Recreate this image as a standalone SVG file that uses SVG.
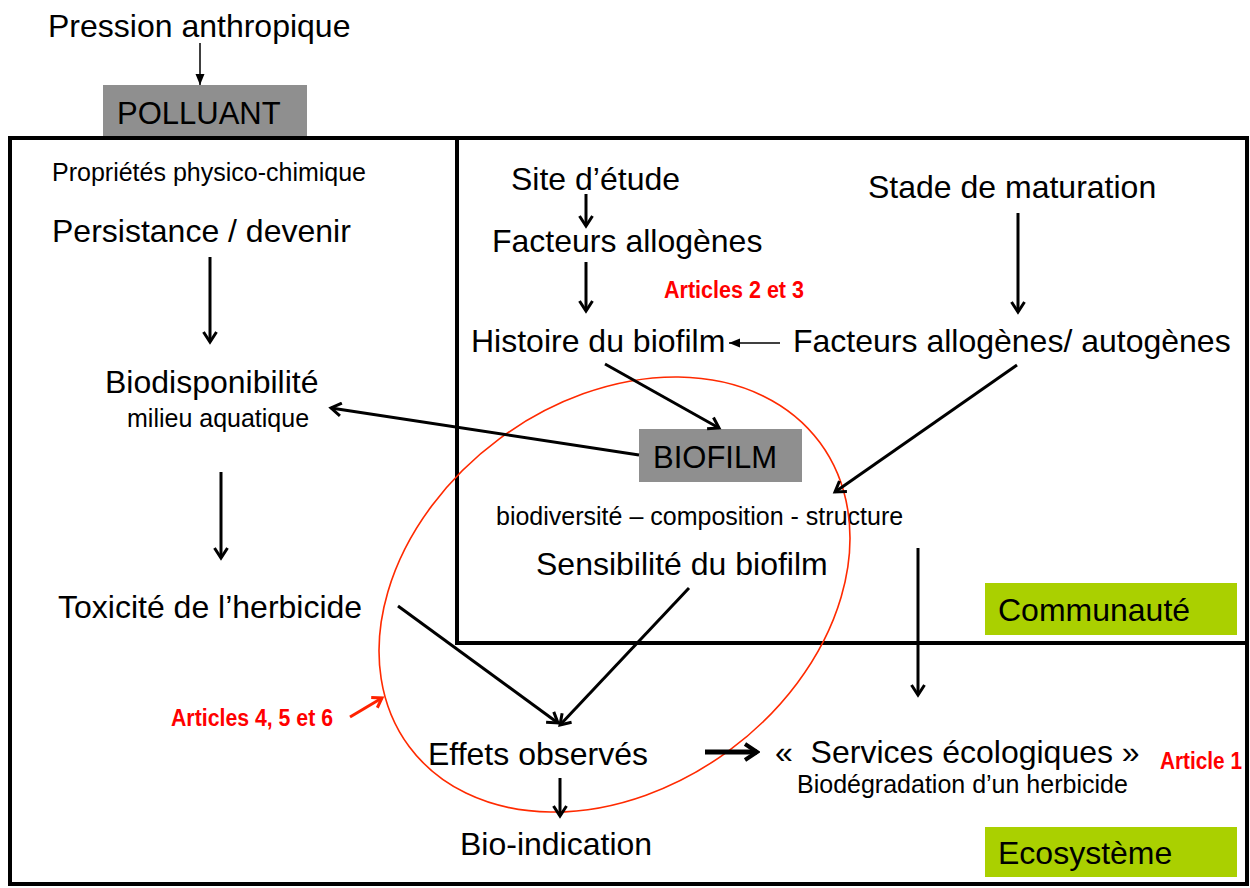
<svg xmlns="http://www.w3.org/2000/svg" width="1250" height="888" viewBox="0 0 1250 888">
<defs>
<style>
text{font-family:"Liberation Sans",Arial,Helvetica,sans-serif;fill:#000}
.big{font-size:32px}
.sm{font-size:25px}
.red{font-size:23px;font-weight:bold;fill:#ff0000}
.ln{stroke:#000;stroke-width:3;fill:none;marker-end:url(#open)}
.thin{stroke:#000;stroke-width:1.5;fill:none;marker-end:url(#tri)}
.frame{fill:none;stroke:#000;stroke-width:4}
.gray{fill:#8f8f8f}
.green{fill:#aad000}
</style>
<marker id="open" markerUnits="userSpaceOnUse" markerWidth="16" markerHeight="16" refX="13" refY="8" orient="auto" viewBox="0 0 16 16">
<path d="M3,1.5 L13,8 L3,14.5" fill="none" stroke="#000" stroke-width="3"/>
</marker>
<marker id="openbig" markerUnits="userSpaceOnUse" markerWidth="20" markerHeight="20" refX="17" refY="10" orient="auto" viewBox="0 0 20 20">
<path d="M5,2 L17,10 L5,18" fill="none" stroke="#000" stroke-width="4"/>
</marker>
<marker id="openred" markerUnits="userSpaceOnUse" markerWidth="16" markerHeight="16" refX="13" refY="8" orient="auto" viewBox="0 0 16 16">
<path d="M4,2 L13,8 L4,14" fill="none" stroke="#ff2200" stroke-width="3"/>
</marker>
<marker id="tri" markerUnits="userSpaceOnUse" markerWidth="12" markerHeight="12" refX="11" refY="6" orient="auto" viewBox="0 0 12 12">
<path d="M0,1.5 L11,6 L0,10.5 Z" fill="#000"/>
</marker>
</defs>

<g id="polluant">
<rect class="gray" x="103" y="85" width="204" height="52"/>
<text x="117" y="124" style="font-size:31px">POLLUANT</text>
</g>
<g id="frames">
<rect class="frame" x="10" y="138" width="1237" height="746"/>
<rect class="frame" x="457" y="138" width="790" height="505"/>
</g>
<g id="communaute">
<rect class="green" x="985" y="583" width="252" height="52"/>
<text class="big" x="998" y="621">Communauté</text>
</g>
<g id="ecosysteme">
<rect class="green" x="985" y="827" width="252" height="50"/>
<text class="big" x="998" y="864">Ecosystème</text>
</g>
<g id="biofilm">
<rect class="gray" x="639" y="429" width="163" height="53"/>
<text x="653" y="468" style="font-size:31px">BIOFILM</text>
</g>

<g id="pression"><text class="big" x="48" y="37">Pression anthropique</text></g>
<g id="proprietes"><text class="sm" x="52" y="181">Propriétés physico-chimique</text></g>
<g id="persistance"><text class="big" x="52" y="242">Persistance / devenir</text></g>
<g id="biodisponibilite"><text class="big" x="105" y="393">Biodisponibilité</text>
<text class="sm" x="127" y="427">milieu aquatique</text></g>
<g id="toxicite"><text class="big" x="58" y="618">Toxicité de l’herbicide</text></g>
<g id="site"><text class="big" x="511" y="190">Site d’étude</text></g>
<g id="facteurs-allogenes"><text class="big" x="492" y="252">Facteurs allogènes</text></g>
<g id="stade"><text class="big" x="868" y="198">Stade de maturation</text></g>
<g id="histoire"><text class="big" x="471" y="352">Histoire du biofilm</text></g>
<g id="facteurs-all-aut"><text class="big" x="793" y="352">Facteurs allogènes/ autogènes</text></g>
<g id="articles23"><text class="red" x="664" y="298" textLength="140" lengthAdjust="spacingAndGlyphs">Articles 2 et 3</text></g>
<g id="biodiversite"><text class="sm" x="496" y="525">biodiversité – composition - structure</text></g>
<g id="sensibilite"><text class="big" x="536" y="575">Sensibilité du biofilm</text></g>
<g id="effets"><text class="big" x="428" y="765">Effets observés</text></g>
<g id="services"><text class="big" x="775" y="763">«&#160; Services écologiques »</text>
<text class="sm" x="797" y="793">Biodégradation d’un herbicide</text></g>
<g id="article1"><text class="red" x="1160" y="769" textLength="82" lengthAdjust="spacingAndGlyphs">Article 1</text></g>
<g id="bioindication"><text class="big" x="460" y="855">Bio-indication</text></g>
<g id="articles456"><text class="red" x="171" y="726" textLength="162" lengthAdjust="spacingAndGlyphs">Articles 4, 5 et 6</text></g>

<g id="ellipse">
<ellipse cx="614.5" cy="594.5" rx="255.5" ry="193.6" transform="rotate(-36.5 614.5 594.5)" fill="none" stroke="#ff2a00" stroke-width="1.6"/>
</g>

<g id="connectors">
<line class="thin" x1="200" y1="43" x2="200" y2="85"/>
<line class="ln" x1="210" y1="257" x2="210" y2="342"/>
<line class="ln" x1="221" y1="472" x2="221" y2="558"/>
<line class="ln" x1="586" y1="194" x2="586" y2="226"/>
<line class="ln" x1="586" y1="262" x2="586" y2="311"/>
<line class="ln" x1="1018" y1="213" x2="1018" y2="312"/>
<line class="thin" x1="780" y1="343" x2="729" y2="343"/>
<line class="ln" x1="605" y1="364" x2="719" y2="428"/>
<line class="ln" x1="639" y1="455" x2="331" y2="408"/>
<line class="ln" x1="1017" y1="365" x2="835" y2="492"/>
<line class="ln" x1="689" y1="588" x2="560" y2="725"/>
<line class="ln" x1="398" y1="606" x2="558" y2="723"/>
<line class="ln" x1="918" y1="548" x2="918" y2="695"/>
<line style="stroke:#000;stroke-width:5;marker-end:url(#openbig)" x1="705" y1="752" x2="757" y2="752"/>
<line class="ln" x1="560" y1="778" x2="560" y2="816"/>
<line style="stroke:#ff2200;stroke-width:3;marker-end:url(#openred)" x1="350" y1="717" x2="382" y2="698"/>
</g>
</svg>
